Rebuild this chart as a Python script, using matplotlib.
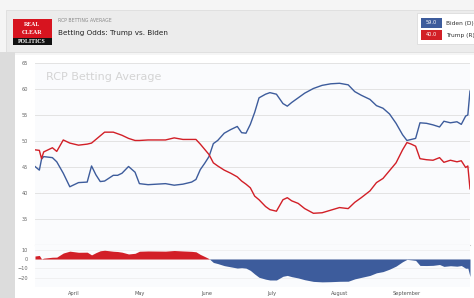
import pandas as pd
import numpy as np
import matplotlib
matplotlib.use('Agg')
import matplotlib.pyplot as plt
from matplotlib.patches import Rectangle

# dias desde o inicio da serie (14/03/2020)
dias = [0, 2, 3, 4, 8, 10, 13, 16, 20, 24, 26, 28, 30, 32, 36, 38, 40, 43, 46, 48,
        52, 56, 60, 64, 68, 72, 74, 76, 78, 80, 82, 84, 87, 90, 93, 95, 97, 99, 101, 103,
        106, 108, 111, 114, 116, 118, 121, 124, 128, 132, 136, 140, 144, 147, 150, 154,
        157, 160, 163, 166, 169, 171, 173, 175, 177, 180, 183, 186, 188, 191, 194, 196,
        198, 199, 200]

biden = [45.1, 44.4, 46.5, 47.0, 46.8, 46.0, 43.8, 41.2, 42.0, 42.1, 45.2, 43.5, 42.2, 42.3,
         43.4, 43.4, 43.8, 45.1, 44.0, 41.8, 41.6, 41.7, 41.8, 41.5, 41.7, 42.1, 42.6, 44.5,
         45.7, 47.0, 49.5, 50.1, 51.5, 52.2, 52.8, 51.6, 51.5, 53.2, 55.5, 58.3, 59.0, 59.3,
         59.0, 57.2, 56.7, 57.4, 58.3, 59.2, 60.1, 60.7, 61.0, 61.1, 60.8, 59.5, 58.8, 58.0,
         56.8, 56.3, 55.2, 53.4, 51.2, 50.1, 50.3, 50.5, 53.5, 53.4, 53.1, 52.7, 53.8, 53.5,
         53.7, 53.2, 54.8, 55.0, 59.6]

trump = [48.3, 48.2, 46.6, 47.9, 48.7, 48.0, 50.2, 49.6, 49.2, 49.4, 49.6, 50.3, 51.0, 51.7,
         51.7, 51.4, 51.1, 50.5, 50.1, 50.1, 50.2, 50.2, 50.2, 50.6, 50.3, 50.3, 50.3, 49.4,
         48.4, 47.4, 45.8, 45.2, 44.4, 43.8, 43.1, 42.3, 41.7, 41.0, 39.4, 38.7, 37.4, 36.8,
         36.5, 38.7, 39.1, 38.5, 38.0, 37.0, 36.1, 36.2, 36.7, 37.2, 37.0, 38.2, 39.1, 40.4,
         42.0, 42.8, 44.3, 45.8, 48.3, 49.7, 49.4, 49.0, 46.6, 46.4, 46.3, 46.8, 45.9, 46.3,
         46.0, 46.2, 44.9, 45.2, 40.8]

legenda_nomes = ['Biden (D)', 'Trump (R)']
legenda_valores = ['59.0', '40.0']
meses = ['April', 'May', 'June', 'July', 'August', 'September']

inicio = pd.Timestamp('2020-03-14')
datas = [inicio + pd.Timedelta(days=d) for d in dias]
spread = np.array(trump) - np.array(biden)

azul = '#3d5c9c'
vermelho = '#d21f27'
W, H = 474, 298

fig = plt.figure(figsize=(W / 100, H / 100), dpi=100)
fig.patch.set_facecolor('#f5f5f5')

def px(x, y, w, h):
    return [x / W, 1 - (y + h) / H, w / W, h / H]

def caixa(x, y, w, h, z=-5, **kw):
    r = Rectangle((x / W, 1 - (y + h) / H), w / W, h / H, transform=fig.transFigure, zorder=z, **kw)
    fig.patches.append(r)

# fundo do cabecalho e painel
caixa(6, 10, 470, 42, facecolor='#ececec', edgecolor='#dddddd', lw=0.6)
caixa(0, 52, 15, 246, facecolor='#dcdcdc', edgecolor='none')
caixa(15, 55, 460, 243, facecolor='white', edgecolor='none')

# logo
caixa(13, 19, 39, 19, z=1, facecolor='#d7141f', edgecolor='none')
caixa(13, 38, 39, 7, z=1, facecolor='#111111', edgecolor='none')
for txt, yy in [('REAL', 24), ('CLEAR', 32), ('POLITICS', 41.5)]:
    fig.text(32 / W, 1 - yy / H, txt, color='white', fontsize=4.2, family='Liberation Serif',
             ha='center', va='center', weight='bold')

fig.text(58 / W, 1 - 21 / H, 'RCP BETTING AVERAGE', color='#888888', fontsize=3.3,
         ha='left', va='center')
fig.text(58 / W, 1 - 33 / H, 'Betting Odds: Trump vs. Biden', color='#222222', fontsize=5.2,
         ha='left', va='center')

# legenda
caixa(417, 13, 60, 31, z=1, facecolor='white', edgecolor='#dddddd', lw=0.6)
for i, (nome, val, cor) in enumerate(zip(legenda_nomes, legenda_valores, [azul, vermelho])):
    yc = 23 + i * 12
    caixa(421, yc - 5, 21, 10, z=2, facecolor=cor, edgecolor='none')
    fig.text(431.5 / W, 1 - yc / H, val, color='white', fontsize=3.6, ha='center', va='center')
    fig.text(446 / W, 1 - yc / H, nome, color='#333333', fontsize=4.2, ha='left', va='center')

# grafico principal
ax = fig.add_axes(px(35, 63, 435, 182))
ax.set_facecolor('#fafbfd')
ax.plot(datas, biden, color=azul, lw=1.0)
ax.plot(datas, trump, color=vermelho, lw=1.0)
ax.set_ylim(30, 65)
ax.set_xlim(inicio, inicio + pd.Timedelta(days=200))
ax.set_yticks([35, 40, 45, 50, 55, 60, 65])
ax.tick_params(axis='y', length=0, labelsize=3.6, labelcolor='#666666', pad=5)
ax.set_xticks([])
ax.grid(axis='y', color='#e3e3e3', lw=0.7)
ax.set_axisbelow(True)
for s in ['top', 'left', 'right']:
    ax.spines[s].set_visible(False)
ax.spines['bottom'].set_color('#cccccc')
ax.text(0.025, 0.925, 'RCP Betting Average', transform=ax.transAxes, color='#d4d4d4',
        fontsize=8, ha='left', va='center')

# spread
ax2 = fig.add_axes(px(35, 245, 435, 42))
ax2.set_facecolor('#fafbfd')
ax2.fill_between(datas, spread, 0, where=spread >= 0, interpolate=True, color=vermelho, lw=0)
ax2.fill_between(datas, spread, 0, where=spread <= 0, interpolate=True, color=azul, lw=0)
ax2.set_ylim(-30, 15)
ax2.set_xlim(inicio, inicio + pd.Timedelta(days=200))
ax2.set_yticks([10, 0, -10, -20])
ax2.tick_params(axis='y', length=0, labelsize=3.6, labelcolor='#666666', pad=5)
ax2.set_xticks([pd.Timestamp('2020-%02d-01' % m) for m in range(4, 10)])
ax2.set_xticklabels(meses)
ax2.tick_params(axis='x', length=0, labelsize=3.6, labelcolor='#555555', pad=3)
ax2.grid(axis='y', color='#ececec', lw=0.5)
ax2.set_axisbelow(True)
for s in ax2.spines.values():
    s.set_visible(False)

fig.savefig('out.png', dpi=100, facecolor=fig.get_facecolor())
